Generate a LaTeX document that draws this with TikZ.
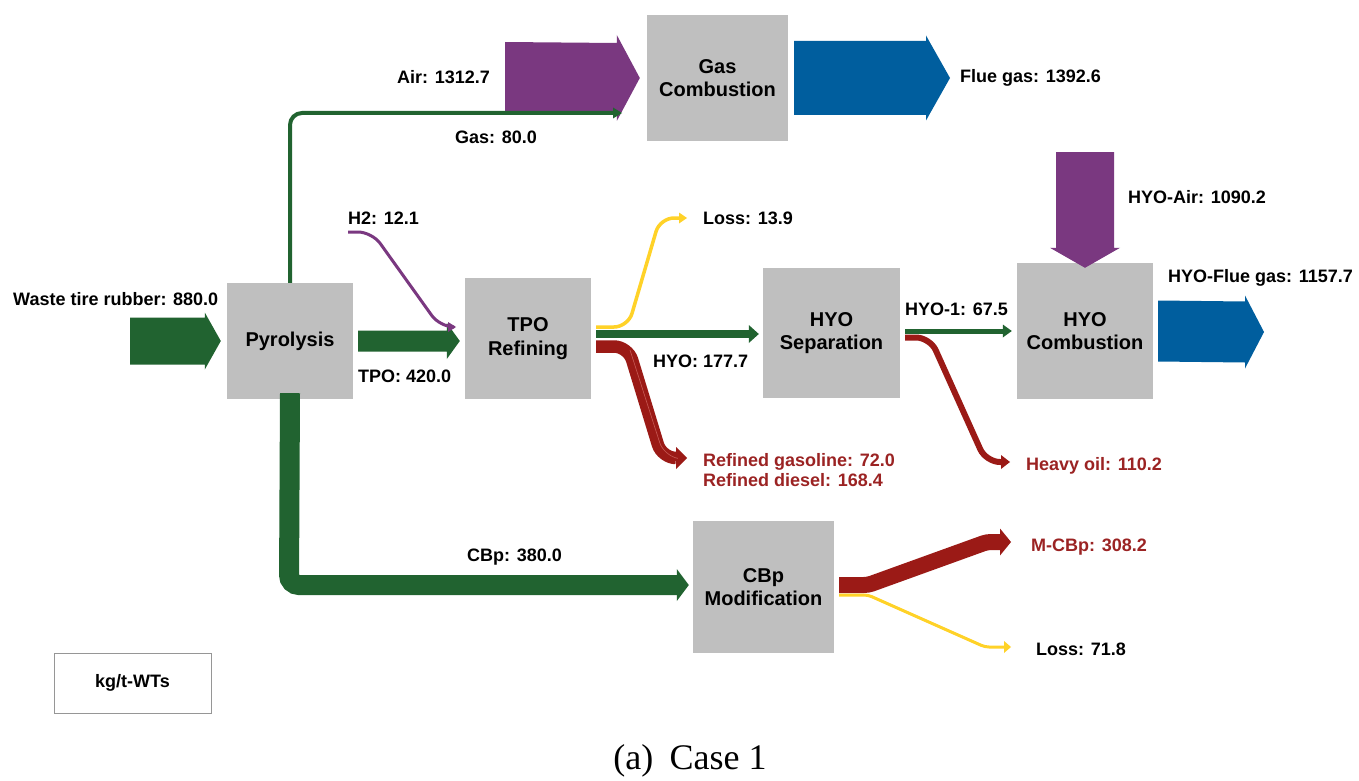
\documentclass[tikz,border=0pt]{standalone}
\usepackage{fontspec}
\setmainfont{Liberation Sans}
\newfontfamily\capfont{Liberation Serif}
\usetikzlibrary{arrows.meta,calc}
\definecolor{fgreen}{RGB}{33,99,48}
\definecolor{fpurple}{RGB}{122,56,128}
\definecolor{fblue}{RGB}{0,94,158}
\definecolor{fred}{RGB}{155,26,22}
\definecolor{fredlight}{RGB}{200,90,85}
\definecolor{fredtxt}{RGB}{155,35,35}
\definecolor{fyellow}{RGB}{255,210,40}
\definecolor{boxgray}{RGB}{191,191,191}
% #1 start, #2 tip, #3 body half width, #4 head half width, #5 head length, #6 colour
\newcommand{\flowRight}[6]{%
  \fill[#6] ($(#1)+(0,-#3)$) -- ($(#2)+(-#5,-#3)$) -- ($(#2)+(-#5,-#4)$) -- (#2)
    -- ($(#2)+(-#5,#4)$) -- ($(#2)+(-#5,#3)$) -- ($(#1)+(0,#3)$) -- cycle;}
\newcommand{\flowDown}[6]{%
  \fill[#6] ($(#1)+(-#3,0)$) -- ($(#2)+(-#3,-#5)$) -- ($(#2)+(-#4,-#5)$) -- (#2)
    -- ($(#2)+(#4,-#5)$) -- ($(#2)+(#3,-#5)$) -- ($(#1)+(#3,0)$) -- cycle;}
\begin{document}
\begin{tikzpicture}[x=1pt,y=-1pt,
  proc/.style={fill=boxgray, draw=none, align=center, inner sep=0pt,
    font=\fontsize{20}{23.5}\selectfont\bfseries},
  lbl/.style={anchor=west, inner sep=0pt, font=\fontsize{18}{21}\selectfont\bfseries},
  rlbl/.style={lbl, text=fredtxt},
  band/.style n args={3}{line width=#1, -{Triangle[length=#2,width=#3,line width=0pt]}},
  thin/.style n args={3}{line width=#1, rounded corners=14pt, -{Triangle[length=#2,width=#3,line width=0pt]}},
]
\useasboundingbox (0,0) rectangle (1359,781);
\fill[white] (0,0) rectangle (1359,781);

% process boxes
\node[proc, minimum width=126pt, minimum height=116pt] (pyro) at (290,341) {Pyrolysis};
\node[proc, minimum width=126pt, minimum height=121pt] (tpo) at (528,338.5) {TPO\\Refining};
\node[proc, minimum width=137pt, minimum height=130pt] (hyosep) at (831.5,333) {HYO\\Separation};
\node[proc, minimum width=136pt, minimum height=136pt] (hyocomb) at (1085,331) {HYO\\Combustion};
\node[proc, minimum width=141pt, minimum height=126pt] (gascomb) at (717.5,78) {Gas\\Combustion};
\node[proc, minimum width=141pt, minimum height=132pt] (cbp) at (763.5,587) {CBp\\Modification};
\node[draw={rgb,255:red,150;green,150;blue,150}, line width=1pt, minimum width=157pt, minimum height=60pt,
      font=\fontsize{18}{21}\selectfont\bfseries] (unit) at (132.5,683) {kg/t-WTs};

% free ends and tips
\coordinate (wt0) at (130,341);
\coordinate (wt1) at ([xshift=-6pt]pyro.west);
\coordinate (tpo0) at ([xshift=5pt]pyro.east);
\coordinate (tpo1) at ($(tpo.west |- pyro.east)+(-5,0)$);
\coordinate (air0) at (505,77);
\coordinate (air1) at ([xshift=-7pt]gascomb.west);
\coordinate (flue0) at ([xshift=6pt]gascomb.east);
\coordinate (flue1) at (950,78);
\coordinate (gasin) at (622,113);
\coordinate (h20) at (348,232);
\coordinate (loss1) at (687,218);
\coordinate (ref1) at (687,458);
\coordinate (heavy1) at (1010,462);
\coordinate (hair0) at (1085,152);
\coordinate (hair1) at ([yshift=-5pt]hyocomb.north);
\coordinate (hflue0) at ([xshift=5pt]hyocomb.east);
\coordinate (hflue1) at (1264,332);
\coordinate (mcbp1) at (1011,542);
\coordinate (loss2) at (1011,647);

% big straight flows
\flowRight{wt0}{wt1}{23.5}{28.5}{16}{fgreen}
\flowRight{tpo0}{tpo1}{10.5}{18}{13}{fgreen}
\flowRight{air0}{air1}{35}{43}{23}{fpurple}
\flowRight{flue0}{flue1}{37}{42.5}{24}{fblue}
\flowDown{hair0}{hair1}{29}{35}{20}{fpurple}
\flowRight{hflue0}{hflue1}{30.5}{36.5}{19}{fblue}

% gas line
\draw[fgreen, line width=4pt, rounded corners=12pt, -{Triangle[length=9pt,width=11pt,line width=0pt]}]
  (pyro.north) -- (pyro.north |- gasin) -- (gasin);
% H2
\draw[fpurple, thin={3pt}{8pt}{10pt}] (h20) -- (372,232) -- (440,327) -- (456,327);
% CBp
\draw[fgreen, line width=20pt, rounded corners=10pt, -{Triangle[length=12pt,width=32pt,line width=0pt]}]
  ([yshift=6pt]pyro.south) -- (289,585) -- ([xshift=-4pt]cbp.west |- 0,585);

% TPO refining outflows
\draw[fyellow, thin={3.5pt}{8pt}{11pt}] (596,327) -- (628,327) -- (660,218) -- (loss1);
\draw[fgreen, band={8.5pt}{10pt}{18pt}] (596,334) -- ([xshift=-4pt]hyosep.west |- 0,334);
\draw[fred, thin={12.5pt}{11pt}{22pt}] (596,346.5) -- (628,346.5) -- (662,458) -- (ref1);
\draw[fredlight, line width=0.6pt, rounded corners=14pt] (630,350) -- (664,456) -- (676,458);

% HYO separation outflows
\draw[fgreen, band={5pt}{9pt}{13pt}] (905,331) -- ([xshift=-5pt]hyocomb.west |- 0,331);
\draw[fred, thin={6pt}{9pt}{14pt}] (905,337.5) -- (930,337.5) -- (986,462) -- (heavy1);

% CBp modification outflows
\draw[fred, line width=16pt, rounded corners=4pt, -{Triangle[length=11pt,width=27pt,line width=0pt]}]
  (839,585) -- (868,585) -- (987,542) -- (mcbp1);
\draw[fyellow, line width=3pt, rounded corners=4pt, -{Triangle[length=7pt,width=12pt,line width=0pt]}]
  (839,595) -- (868,595) -- (985,647) -- (loss2);

% labels
\node[lbl] (lwt) at (13,299) {Waste tire rubber: 880.0};
\node[lbl] (ltpo) at (358,376) {TPO: 420.0};
\node[lbl] (lh2) at (348,218) {H2: 12.1};
\node[lbl] (lair) at (397,77) {Air: 1312.7};
\node[lbl] (lgas) at (455,137) {Gas: 80.0};
\node[lbl] (lflue) at (960,78) {Flue gas: 1392.6};
\node[lbl] (lloss1) at (703,218) {Loss: 13.9};
\node[lbl] (lhyo) at (653,361) {HYO: 177.7};
\node[rlbl] (lref) at (703,472) {\begin{tabular}{@{}l@{}}Refined gasoline: 72.0\\[-1pt]Refined diesel: 168.4\end{tabular}};
\node[lbl] (lhyo1) at (905,309) {HYO-1: 67.5};
\node[rlbl] (lheavy) at (1026,466) {Heavy oil: 110.2};
\node[lbl] (lhair) at (1128,197) {HYO-Air: 1090.2};
\node[lbl] (lhflue) at (1168,278) {HYO-Flue gas: 1157.7};
\node[lbl] (lcbp) at (467,557) {CBp: 380.0};
\node[rlbl] (lmcbp) at (1031,547) {M-CBp: 308.2};
\node[lbl] (lloss2) at (1036,649) {Loss: 71.8};

% caption
\node[inner sep=0pt, font=\capfont\fontsize{36}{40}\selectfont] (cap) at (690,761) {(a)\hspace{0.45em}Case 1};
\end{tikzpicture}
\end{document}
